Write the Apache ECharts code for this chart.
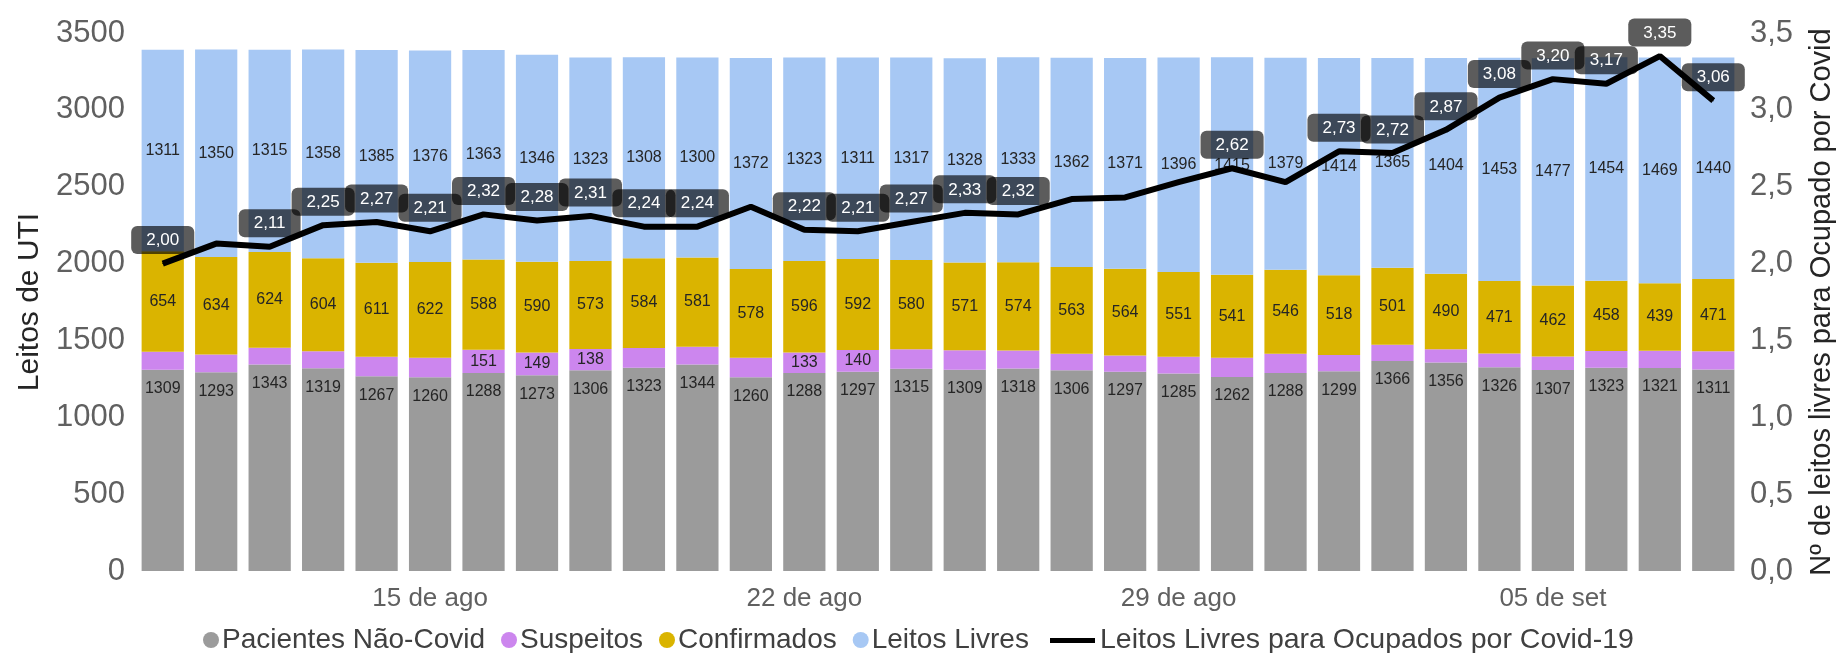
<!DOCTYPE html>
<html>
<head>
<meta charset="utf-8">
<script src="https://cdn.jsdelivr.net/npm/echarts@6/dist/echarts.min.js"></script>
<style>
  html, body { margin: 0; padding: 0; background: #fff; }
  #grafico { width: 1844px; height: 653px; }
</style>
</head>
<body>
<div id="grafico"></div>
<script>
// dias de 10 de ago a 08 de set
const dias = [
  "10 de ago", "11 de ago", "12 de ago", "13 de ago", "14 de ago", "15 de ago", "16 de ago",
  "17 de ago", "18 de ago", "19 de ago", "20 de ago", "21 de ago", "22 de ago", "23 de ago",
  "24 de ago", "25 de ago", "26 de ago", "27 de ago", "28 de ago", "29 de ago", "30 de ago",
  "31 de ago", "01 de set", "02 de set", "03 de set", "04 de set", "05 de set", "06 de set",
  "07 de set", "08 de set"
];

const naoCovid = [1309, 1293, 1343, 1319, 1267, 1260, 1288, 1273, 1306, 1323, 1344, 1260, 1288, 1297, 1315,
  1309, 1318, 1306, 1297, 1285, 1262, 1288, 1299, 1366, 1356, 1326, 1307, 1323, 1321, 1311];
const suspeitos = [117, 115, 109, 111, 127, 128, 151, 149, 138, 128, 115, 127, 133, 140, 128,
  127, 117, 108, 105, 109, 125, 126, 107, 106, 87, 89, 89, 108, 112, 118];
const confirmados = [654, 634, 624, 604, 611, 622, 588, 590, 573, 584, 581, 578, 596, 592, 580,
  571, 574, 563, 564, 551, 541, 546, 518, 501, 490, 471, 462, 458, 439, 471];
const livres = [1311, 1350, 1315, 1358, 1385, 1376, 1363, 1346, 1323, 1308, 1300, 1372, 1323, 1311, 1317,
  1328, 1333, 1362, 1371, 1396, 1415, 1379, 1414, 1365, 1404, 1453, 1477, 1454, 1469, 1440];
const razao = [2.00, 2.13, 2.11, 2.25, 2.27, 2.21, 2.32, 2.28, 2.31, 2.24, 2.24, 2.37, 2.22, 2.21, 2.27,
  2.33, 2.32, 2.42, 2.43, 2.53, 2.62, 2.53, 2.73, 2.72, 2.87, 3.08, 3.20, 3.17, 3.35, 3.06];
// pontos da linha sem rótulo (escondidos no original)
const razaoSemRotulo = [1, 11, 17, 18, 19, 21];

const ticksEsq = [0, 500, 1000, 1500, 2000, 2500, 3000, 3500];
const ticksDir = [0, 0.5, 1, 1.5, 2, 2.5, 3, 3.5];

const fonte = "Liberation Sans, Arial, sans-serif";
const virgula = (v, d) => v.toFixed(d).replace(".", ",");

const rotuloBarra = (extra) => Object.assign({
  show: true,
  position: "inside",
  color: "#252525",
  fontSize: 16,
  fontFamily: fonte
}, extra);

const serieBarra = (nome, dados, cor, label) => ({
  name: nome,
  type: "bar",
  stack: "leitos",
  data: dados,
  barCategoryGap: "21%",
  itemStyle: { color: cor },
  label: label,
  emphasis: { disabled: true }
});

const chart = echarts.init(document.getElementById("grafico"));

const option = {
  animation: false,
  grid: { left: 136, right: 94, top: 33, bottom: 82 },
  legend: [
    {
      left: 203,
      top: 626,
      padding: 0,
      icon: "circle",
      itemWidth: 16,
      itemHeight: 16,
      itemGap: 16,
      textStyle: { fontSize: 28, color: "#404040", fontFamily: fonte, padding: [0, 0, 0, -2] },
      data: ["Pacientes Não-Covid", "Suspeitos", "Confirmados", "Leitos Livres"]
    },
    {
      left: 1050,
      top: 626,
      padding: 0,
      icon: "rect",
      itemWidth: 45,
      itemHeight: 5,
      textStyle: { fontSize: 28.5, color: "#404040", fontFamily: fonte },
      data: ["Leitos Livres para Ocupados por Covid-19"]
    }
  ],
  xAxis: {
    type: "category",
    data: dias,
    axisLine: { show: false },
    axisTick: { show: false },
    axisLabel: {
      interval: (i) => i % 7 === 5,
      margin: 15,
      fontSize: 26,
      color: "#606060",
      fontFamily: fonte
    }
  },
  yAxis: [
    {
      type: "value",
      min: ticksEsq[0],
      max: ticksEsq[ticksEsq.length - 1],
      interval: 500,
      name: "Leitos de UTI",
      nameLocation: "middle",
      nameRotate: 90,
      nameGap: 72,
      nameTextStyle: { fontSize: 30, color: "#252525", fontFamily: fonte },
      splitLine: { show: false },
      axisLabel: {
        fontSize: 31,
        color: "#606060",
        margin: 11,
        fontFamily: fonte,
        formatter: (v) => String(v)
      }
    },
    {
      type: "value",
      min: ticksDir[0],
      max: ticksDir[ticksDir.length - 1],
      interval: 0.5,
      name: "Nº de leitos livres para Ocupado por Covid",
      nameLocation: "middle",
      nameRotate: 90,
      nameGap: 67,
      nameTextStyle: { fontSize: 29, color: "#252525", fontFamily: fonte },
      splitLine: { show: false },
      axisLabel: {
        fontSize: 31,
        color: "#606060",
        margin: 10,
        fontFamily: fonte,
        formatter: (v) => virgula(v, 1)
      }
    }
  ],
  series: [
    serieBarra("Pacientes Não-Covid", naoCovid, "#9b9b9b",
      rotuloBarra({ position: "insideTop", distance: 11 })),
    serieBarra("Suspeitos", suspeitos, "#cc86ee",
      rotuloBarra({ formatter: (p) => (p.value >= 130 ? p.value : "") })),
    serieBarra("Confirmados", confirmados, "#dab400", rotuloBarra({})),
    serieBarra("Leitos Livres", livres, "#a7c8f4", rotuloBarra({})),
    {
      name: "Leitos Livres para Ocupados por Covid-19",
      type: "line",
      yAxisIndex: 1,
      z: 10,
      symbol: "circle",
      symbolSize: 1,
      showAllSymbol: true,
      itemStyle: { color: "#000" },
      lineStyle: { color: "#000", width: 6 },
      data: razao.map((v, i) => ({
        value: v,
        label: { show: !razaoSemRotulo.includes(i) }
      })),
      label: {
        show: true,
        position: "top",
        distance: 9,
        formatter: (p) => virgula(p.value, 2),
        color: "#fff",
        fontSize: 17,
        fontFamily: fonte,
        backgroundColor: "rgba(0,0,0,0.64)",
        borderRadius: 6,
        padding: [6, 15, 5, 15]
      },
      emphasis: { disabled: true }
    }
  ]
};

option && chart.setOption(option);
</script>
</body>
</html>
